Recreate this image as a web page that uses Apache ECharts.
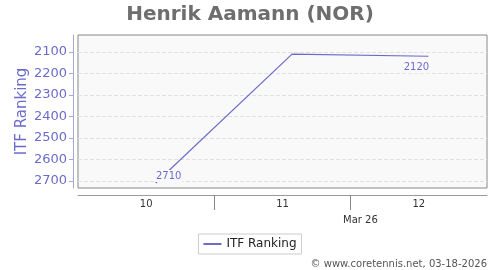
<!DOCTYPE html>
<html>
<head>
<meta charset="UTF-8">
<title>itf-ranking</title>
<script src="https://cdn.jsdelivr.net/npm/echarts@6/dist/echarts.min.js"></script>
<style>
body { margin: 0; background: #fff; }
#main { width: 500px; height: 270px; }
</style>
</head>
<body>
<div id="main"></div>
<script>
// data
var playerName = 'Henrik Aamann (NOR)';
var dayPos = [10.07, 11.07, 12.07];
var rankVals = [2710, 2110, 2120];
var dayLabels = [10, 11, 12];
var daySeps = [10.5, 11.5];
var rankTicks = [2100, 2200, 2300, 2400, 2500, 2600, 2700];

var purple = '#6b6bcc';
var font = 'DejaVu Sans';

var pts = [];
for (var i = 0; i < dayPos.length; i++) {
	var p = { value: [dayPos[i], rankVals[i]] };
	if (i == 0) {
		p.label = { show: true, position: 'top', offset: [13, 4] };
	} else if (i == dayPos.length - 1) {
		p.label = { show: true, position: 'bottom', offset: [-12, 0] };
	}
	pts.push(p);
}

var chart = echarts.init(document.getElementById('main'));
chart.setOption({
	animation: false,
	textStyle: { fontFamily: font },
	title: {
		text: playerName,
		left: 'center',
		top: 0,
		textStyle: { fontSize: 20, fontWeight: 'bold', color: '#6e6e6e', fontFamily: font }
	},
	grid: {
		left: 78, right: 13, top: 35, bottom: 82,
		outerBoundsMode: 'none',
		containLabel: false,
		show: true, backgroundColor: '#f9f9f9', borderColor: '#888', borderWidth: 1
	},
	legend: {
		bottom: 16,
		left: 'center',
		itemWidth: 18,
		itemHeight: 2,
		padding: [4, 5],
		borderColor: '#ccc',
		borderWidth: 1,
		borderRadius: 0,
		icon: 'rect',
		textStyle: { fontSize: 12, color: '#222', fontFamily: font },
		data: ['ITF Ranking']
	},
	xAxis: {
		type: 'value',
		min: 9.5,
		max: 12.5,
		offset: 7,
		splitLine: { show: false },
		axisLine: { show: true, onZero: false, lineStyle: { color: '#999', width: 1 } },
		axisTick: { show: true, customValues: daySeps, length: 15, lineStyle: { color: '#888' } },
		axisLabel: { customValues: dayLabels, color: '#333', fontSize: 10, margin: 4 }
	},
	yAxis: {
		type: 'value',
		inverse: true,
		min: 2021,
		max: 2733,
		offset: 5,
		name: 'ITF Ranking',
		nameLocation: 'middle',
		nameGap: 43,
		nameMoveOverlap: false,
		nameTextStyle: { color: purple, fontSize: 15, fontFamily: font },
		axisLine: { show: true, onZero: false, lineStyle: { color: '#a8a8d8', width: 1 } },
		axisTick: { show: true, customValues: rankTicks, length: 4, lineStyle: { color: '#a8a8d8' } },
		axisLabel: {
			customValues: rankTicks, color: purple, fontSize: 13, margin: 6,
			formatter: function (v) { return String(v); }
		},
		splitLine: { show: true, lineStyle: { color: '#e0e0e0', type: 'dashed' } }
	},
	graphic: [
		{ type: 'text', left: 343, top: 215, style: { text: 'Mar 26', fontSize: 10, fill: '#333', fontFamily: font } },
		{ type: 'text', right: 13, top: 259, style: { text: '\u00a9 www.coretennis.net, 03-18-2026', fontSize: 10, fill: '#555', fontFamily: font } }
	],
	series: [{
		name: 'ITF Ranking',
		type: 'line',
		data: pts,
		showSymbol: true,
		symbol: 'circle',
		symbolSize: 0.1,
		color: purple,
		lineStyle: { width: 1.2, color: purple },
		label: {
			color: purple, fontSize: 10, backgroundColor: '#f9f9f9', padding: [1, 1],
			formatter: function (d) { return String(d.value[1]); }
		}
	}]
});
</script>
</body>
</html>
